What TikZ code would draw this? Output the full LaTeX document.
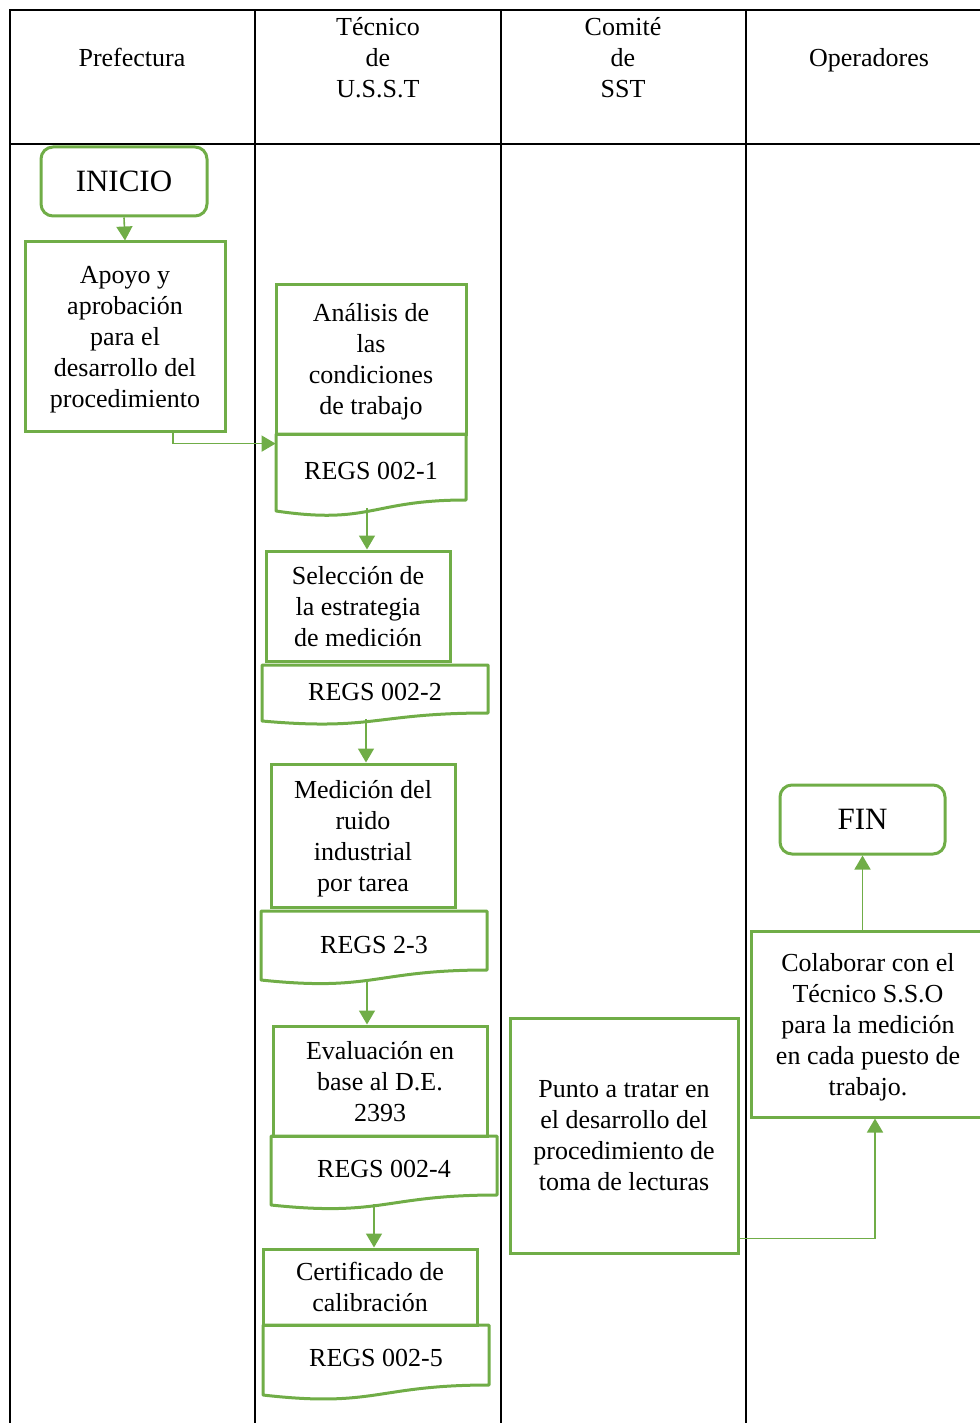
\documentclass[tikz,border=0pt]{standalone}
\usepackage{fontspec}
\setmainfont{Liberation Serif}
\usetikzlibrary{arrows.meta}

\definecolor{verde}{RGB}{112,173,71}

\tikzset{
  lane/.style={draw=black, line width=1pt},
  proc/.style={draw=verde, line width=1.5pt, align=center, inner sep=0pt, text depth=-1pt},
  term/.style={draw=verde, line width=1.5pt, inner sep=0pt, rounded corners=6pt,
    font=\fontsize{15.5}{18}\selectfont},
  regs/.style={align=center, inner sep=0pt},
  wave/.style={draw=verde, line width=1.5pt, line join=round},
  flow/.style={draw=verde, line width=0.8pt, -{Triangle[width=8pt,length=7pt]}}
}

\begin{document}
\begin{tikzpicture}[x=0.5pt, y=-0.5pt, font=\fontsize{13}{15.5}\selectfont]
  \useasboundingbox (0,0) rectangle (979,1423);

  % Lanes
  \draw[lane] (10,1423) -- (10,10) -- (990,10);
  \draw[lane] (10,144) -- (990,144);
  \draw[lane] (255,10) -- (255,1423);
  \draw[lane] (501,10) -- (501,1423);
  \draw[lane] (746,10) -- (746,1423);

  % Lane titles
  \node[align=center] (hpref) at (132,57) {Prefectura};
  \node[align=center] (htec) at (378,58) {Técnico\\de\\U.S.S.T};
  \node[align=center] (hcom) at (623,58) {Comité\\de\\SST};
  \node[align=center] (hope) at (869,60) {Operadores};

  % Prefectura
  \node[term, minimum width=83pt, minimum height=34.5pt] (inicio) at (124,181.5) {INICIO};
  \node[proc, minimum width=100pt, minimum height=94.5pt] (apoyo) at (125,336.5)
    {Apoyo y\\aprobación\\para el\\desarrollo del\\procedimiento};

  % Tecnico de U.S.S.T
  \node[proc, minimum width=95pt, minimum height=75pt] (analisis) at (371,359)
    {Análisis de\\las\\condiciones\\de trabajo};
  \draw[wave] (276,434) -- (466,434) -- (466,500)
    .. controls (371,500) and (371,525) .. (276,511) -- cycle;
  \node[regs, minimum width=95pt, minimum height=37pt] (regs1) at (371,471) {REGS 002-1};

  \node[proc, minimum width=92pt, minimum height=55pt] (seleccion) at (358,606)
    {Selección de\\la estrategia\\de medición};
  \draw[wave] (262,665) -- (488,665) -- (488,713)
    .. controls (375,713) and (375,731) .. (262,721) -- cycle;
  \node[regs, minimum width=113pt, minimum height=27pt] (regs2) at (375,692) {REGS 002-2};

  \node[proc, minimum width=92pt, minimum height=71.5pt] (medicion) at (363,835.5)
    {Medición del\\ruido\\industrial\\por tarea};
  \draw[wave] (261,911) -- (487,911) -- (487,970)
    .. controls (374,970) and (374,992) .. (261,980) -- cycle;
  \node[regs, minimum width=113pt, minimum height=35pt] (regs3) at (374,945) {REGS 2-3};

  \node[proc, text depth=-3pt, minimum width=107pt, minimum height=55pt] (evaluacion) at (380,1081)
    {Evaluación en\\base al D.E.\\2393};
  \draw[wave] (271,1136) -- (497,1136) -- (497,1195)
    .. controls (384,1195) and (384,1217) .. (271,1205) -- cycle;
  \node[regs, minimum width=113pt, minimum height=35pt] (regs4) at (384,1169) {REGS 002-4};

  \node[proc, text depth=-4.5pt, minimum width=107pt, minimum height=38pt] (certificado) at (370,1287)
    {Certificado de\\calibración};
  \draw[wave] (263,1325) -- (489,1325) -- (489,1385)
    .. controls (376,1385) and (376,1408) .. (263,1395) -- cycle;
  \node[regs, minimum width=113pt, minimum height=35pt] (regs5) at (376,1358) {REGS 002-5};

  % Comite de SST
  \node[proc, minimum width=114pt, minimum height=117.5pt] (punto) at (624,1135.5)
    {Punto a tratar en\\el desarrollo del\\procedimiento de\\toma de lecturas};

  % Operadores
  \node[proc, minimum width=117pt, minimum height=93pt] (colabora) at (868,1024)
    {Colaborar con el\\Técnico S.S.O\\para la medición\\en cada puesto de\\trabajo.};
  \node[term, minimum width=82.5pt, minimum height=34.5pt] (fin) at (862.5,819.5) {FIN};

  % Flow
  \draw[flow] (inicio.south) -- (apoyo.north);
  \draw[flow] ([xshift=24pt]apoyo.south) |- ([yshift=-5pt]regs1.north west);
  \draw[flow] ([xshift=-2pt]regs1.south) -- ([xshift=-2pt]regs1.south |- seleccion.north);
  \draw[flow] ([xshift=-4.5pt]regs2.south) -- ([xshift=-4.5pt]regs2.south |- medicion.north);
  \draw[flow] ([xshift=-3.5pt]regs3.south) -- ([xshift=-3.5pt]regs3.south |- evaluacion.north);
  \draw[flow] ([xshift=-5pt]regs4.south) -- ([xshift=-5pt]regs4.south |- certificado.north);
  \draw[flow] ([yshift=8pt]punto.south east) -| ([xshift=3.5pt]colabora.south);
  \draw[flow] (fin.south |- colabora.north) -- (fin.south);
\end{tikzpicture}
\end{document}
